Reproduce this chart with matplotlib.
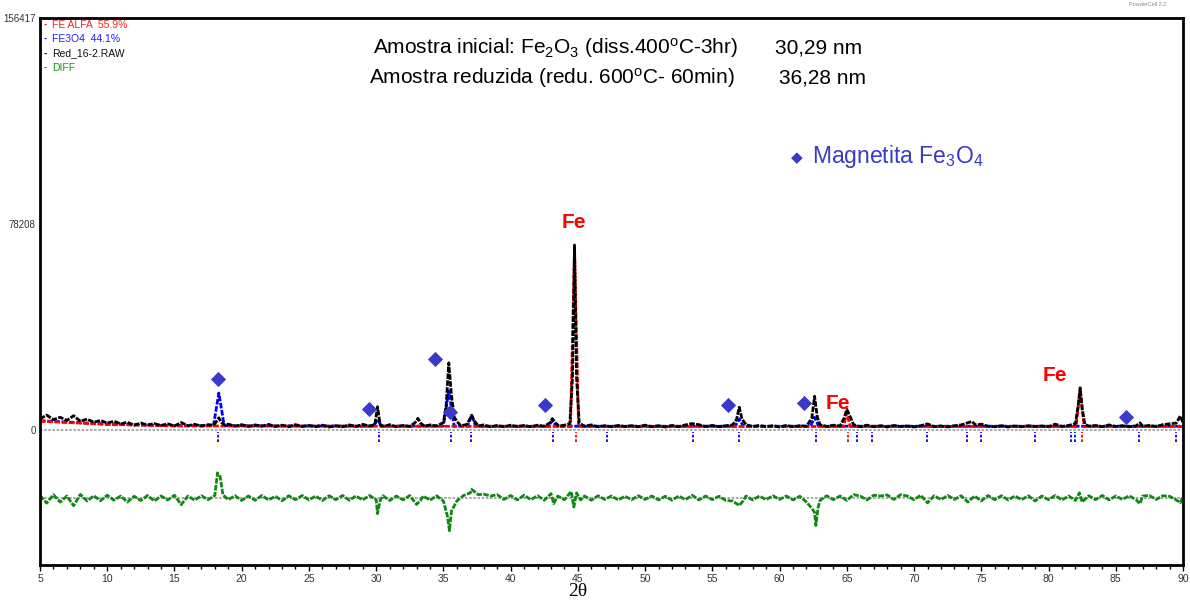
import matplotlib.pyplot as plt
import numpy as np
from matplotlib.ticker import MultipleLocator

plt.rcParams['font.family'] = ['Liberation Sans', 'DejaVu Sans']
plt.rcParams['mathtext.fontset'] = 'custom'
plt.rcParams['mathtext.rm'] = 'Liberation Sans'
plt.rcParams['mathtext.it'] = 'Liberation Sans'

obs_x = [5.0, 5.5, 6.0, 6.5, 7.0, 7.5, 8.0, 8.5, 9.0, 9.5, 10.0, 10.5, 11.0, 11.5, 12.0, 12.5,
         13.0, 13.5, 14.0, 14.5, 15.0, 15.5, 16.0, 16.5, 17.0, 17.5, 17.9, 18.1, 18.3, 18.5, 18.8,
         19.0, 19.5, 20.0, 20.5, 21.0, 21.5, 22.0, 22.5, 23.0, 23.5, 24.0, 24.5, 25.0, 25.5, 26.0,
         26.5, 27.0, 27.5, 28.0, 28.5, 29.0, 29.5, 29.9, 30.1, 30.3, 30.6, 31.0, 31.5, 32.0, 32.5,
         32.9, 33.1, 33.3, 33.6, 34.0, 34.5, 35.0, 35.2, 35.4, 35.6, 35.8, 36.0, 36.3, 36.7, 36.9,
         37.1, 37.3, 37.6, 38.0, 38.5, 39.0, 39.5, 40.0, 40.5, 41.0, 41.5, 42.0, 42.5, 42.9, 43.1,
         43.3, 43.6, 44.0, 44.4, 44.6, 44.75, 44.9, 45.1, 45.5, 46.0, 46.5, 47.0, 47.5, 48.0, 48.5,
         49.0, 49.5, 50.0, 50.5, 51.0, 51.5, 52.0, 52.5, 53.0, 53.5, 54.0, 54.5, 55.0, 55.5, 56.0,
         56.5, 56.8, 57.0, 57.2, 57.5, 58.0, 58.5, 59.0, 59.5, 60.0, 60.5, 61.0, 61.5, 62.0, 62.4,
         62.6, 62.8, 63.0, 63.5, 64.0, 64.5, 64.8, 65.0, 65.2, 65.5, 66.0, 66.5, 67.0, 67.5, 68.0,
         68.5, 69.0, 69.5, 70.0, 70.5, 71.0, 71.5, 72.0, 72.5, 73.0, 73.5, 74.0, 74.3, 74.6, 75.0,
         75.5, 76.0, 76.5, 77.0, 77.5, 78.0, 78.5, 79.0, 79.5, 80.0, 80.5, 81.0, 81.5, 82.0, 82.2,
         82.35, 82.5, 82.7, 83.0, 83.5, 84.0, 84.5, 85.0, 85.5, 86.0, 86.5, 86.8, 87.0, 87.5, 88.0,
         88.5, 89.0, 89.5, 89.8, 90.0]
obs_y = [4200, 5600, 3900, 4800, 3600, 5400, 3300, 4100, 2900, 3600, 2600, 3300, 2300, 2900, 1800, 2600,
         1900, 2400, 1700, 2300, 1500, 2800, 1600, 2100, 1500, 2000, 1800, 3000, 4600, 2800, 1700,
         2200, 1400, 2000, 1300, 1900, 1400, 2100, 1300, 1800, 1200, 2000, 1300, 1700, 1200, 1800,
         1100, 1600, 1200, 1900, 1300, 2100, 1500, 2000, 8800, 1900, 1300, 2000, 1200, 1700, 1300,
         2800, 4400, 2600, 1400, 1900, 1500, 2800, 9000, 25500, 13000, 5000, 3200, 1600, 2000, 3500,
         5600, 3400, 1500, 1900, 1200, 1700, 1200, 1800, 1300, 1700, 1200, 1800, 1400, 2600, 4300,
         2800, 1500, 1800, 2400, 20000, 70200, 20000, 2600, 1400, 1900, 1200, 1600, 1200, 1700, 1300,
         1600, 1200, 1800, 1200, 1600, 1100, 1700, 1200, 1900, 2400, 2000, 1300, 1700, 1200, 1600,
         1900, 4000, 8600, 4200, 2000, 1300, 1700, 1200, 1600, 1100, 1700, 1200, 1600, 1400, 4500,
         12800, 5000, 2000, 1300, 1800, 1500, 4500, 7800, 5600, 2000, 1200, 1800, 1200, 1600, 1100,
         1700, 1300, 1500, 1100, 1600, 2300, 1200, 1500, 1100, 1600, 1900, 2700, 3200, 1800, 2200,
         1400, 1200, 1600, 1100, 1500, 1200, 1600, 1300, 1500, 1200, 2200, 1300, 1700, 2400, 9000,
         16000, 8000, 2200, 1400, 1700, 1200, 1900, 1300, 1600, 1200, 1500, 2700, 1400, 1700, 1300,
         2000, 2300, 2600, 5300, 2600]

# calculated profile FE3O4 (blue)
fe3o4_x = [5, 10, 15, 17.9, 18.3, 18.7, 29.8, 30.1, 30.4, 35.0, 35.4, 35.8, 36.8, 37.1, 37.4,
           42.8, 43.1, 43.4, 56.7, 57.0, 57.3, 62.3, 62.6, 62.9, 90]
fe3o4_y = [3500, 2200, 1600, 1600, 14000, 1600, 1400, 4000, 1400, 1500, 14800, 1500, 1400, 5600, 1400,
           1400, 3500, 1400, 1400, 4200, 1400, 1400, 4800, 1400, 1400]

# calculated profile FE ALFA (red)
fe_x = [5, 10, 15, 44.45, 44.75, 45.05, 64.75, 65.0, 65.25, 82.05, 82.35, 82.65, 90]
fe_y = [3300, 2100, 1500, 1300, 69000, 1300, 1300, 6500, 1300, 1300, 15500, 1300, 1300]

# difference curve (obs - calc)
diff_x = [5.0, 5.5, 6.0, 6.5, 7.0, 7.5, 8.0, 8.5, 9.0, 9.5, 10.0, 10.5, 11.0, 11.5, 12.0, 12.5,
          13.0, 13.5, 14.0, 14.5, 15.0, 15.5, 16.0, 16.5, 17.0, 17.5, 18.0, 18.2, 18.4, 18.6, 19.0,
          19.5, 20.0, 20.5, 21.0, 21.5, 22.0, 22.5, 23.0, 23.5, 24.0, 24.5, 25.0, 25.5, 26.0, 26.5,
          27.0, 27.5, 28.0, 28.5, 29.0, 29.5, 30.0, 30.1, 30.3, 30.5, 31.0, 31.5, 32.0, 32.5, 33.0,
          33.3, 33.5, 34.0, 34.5, 35.0, 35.3, 35.45, 35.6, 36.0, 36.5, 37.0, 37.1, 37.3, 37.6, 38.0,
          38.5, 39.0, 39.5, 40.0, 40.5, 41.0, 41.5, 42.0, 42.5, 43.0, 43.2, 43.5, 44.0, 44.5, 44.7,
          44.9, 45.2, 45.5, 46.0, 46.5, 47.0, 47.5, 48.0, 48.5, 49.0, 49.5, 50.0, 50.5, 51.0, 51.5,
          52.0, 52.5, 53.0, 53.5, 54.0, 54.5, 55.0, 55.5, 56.0, 56.5, 57.0, 57.3, 57.5, 58.0, 58.5,
          59.0, 59.5, 60.0, 60.5, 61.0, 61.5, 62.0, 62.4, 62.6, 62.7, 62.85, 63.0, 63.5, 64.0, 64.5,
          65.0, 65.5, 66.0, 66.5, 67.0, 67.5, 68.0, 68.5, 69.0, 69.5, 70.0, 70.5, 71.0, 71.5, 72.0,
          72.5, 73.0, 73.5, 74.0, 74.5, 75.0, 75.5, 76.0, 76.5, 77.0, 77.5, 78.0, 78.5, 79.0, 79.5,
          80.0, 80.5, 81.0, 81.5, 82.0, 82.3, 82.5, 83.0, 83.5, 84.0, 84.5, 85.0, 85.5, 86.0, 86.5,
          86.8, 87.0, 87.5, 88.0, 88.5, 89.0, 89.5, 89.8, 90.0]
diff_y = [900, -2000, 1200, -1600, 700, -3000, 1300, -1200, 800, -1100, 1000, -900, 700, -1600, 600, -1000,
          900, -1200, 700, -800, 1000, -2600, 700, -900, 800, -700, 900, 9500, 8000, 1200, -700,
          800, -1000, 700, -900, 900, -800, 600, -1100, 800, -700, 900, -800, 700, -1000, 800,
          -700, 900, -900, 700, -800, 900, -700, -6000, -900, 800, -1000, 700, -800, 900, -2500,
          -1000, 700, -900, 800, -1200, -7000, -12500, -5000, -1200, 900, 1900, 3200, 2400, 1200, 1400,
          700, 1200, -600, 900, -800, 1000, -700, 800, -900, 1600, -2200, 700, -700, 2400, -3500,
          1900, -800, 700, -900, 800, -600, 700, -800, 600, -700, 800, -600, 700, -800, 600,
          -900, 700, -700, 1000, -800, 700, -700, 600, -1000, -1200, -2900, -1100, 700, -800, 700,
          -700, 800, -600, 700, -800, 600, -1600, -4000, -5500, -10500, -4000, -1000, 800, -700, 700,
          -1000, 1200, 700, -800, 1000, 700, 1100, -600, 1200, 700, -700, 1000, -1900, 800, -700,
          900, -600, 800, -1600, 700, -1200, 900, -700, 800, -800, 700, -700, 800, -1200, 700,
          -700, 900, -800, 700, -1000, 1900, -1600, 800, -700, 900, -800, 700, -600, 800, -700,
          -2200, 700, 900, -600, 800, 600, -800, -1900, 700]

# reflection positions
fe3o4_refl = [18.23, 30.2, 35.56, 37.05, 43.14, 47.16, 53.55, 56.97, 62.7, 65.74, 66.86, 70.95,
              73.92, 74.96, 78.98, 81.66, 81.95, 86.7, 89.5]
fe_refl = [44.85, 65.07, 82.47]

# magnetite markers (2theta, height)
mag_x = [18.2, 29.5, 34.37, 35.48, 42.55, 56.15, 61.8, 85.74]
mag_y = [19360, 8000, 26950, 6800, 9500, 9500, 10250, 4930]

# "Fe" labels
fe_lab_x = [44.7, 64.3, 80.47]
fe_lab_y = [78900, 9900, 20500]

ymax = 156417
diff_offset = -25800
ymin = -51300

W, H = 1190, 601
fig = plt.figure(figsize=(W / 100, H / 100), dpi=100)
ax = fig.add_axes([40 / W, 1 - 565 / H, 1143 / W, 547 / H])

ax.axhline(0, color='#999999', lw=1.2, ls=(0, (1.5, 1)))
ax.axhline(diff_offset, color='#999999', lw=1.2, ls=(0, (1.5, 1)))
ax.plot(fe3o4_x, fe3o4_y, color='#0000ff', lw=2, ls=(0, (2, 0.6)))
ax.plot(fe_x, fe_y, color='#ff0000', lw=2, ls=(0, (2, 0.6)))
ax.plot(obs_x, obs_y, color='black', lw=2, ls=(0, (2, 0.5)))
ax.plot(diff_x, np.array(diff_y) + diff_offset, color='#118811', lw=2, ls=(0, (2, 0.5)))

ax.vlines(fe3o4_refl, -4500, -800, color='#0000ff', lw=1.3, ls=(0, (1.5, 1)))
ax.vlines(fe_refl, -4500, -800, color='#ff0000', lw=1.3, ls=(0, (1.5, 1)))

ax.scatter(mag_x, mag_y, marker='D', s=60, color='#3a3ac8', zorder=5, linewidths=0)
for x, y in zip(fe_lab_x, fe_lab_y):
    ax.text(x, y, 'Fe', color='#ff0000', fontsize=15, fontweight='bold', ha='center', va='center')

ax.set_xlim(5, 90)
ax.set_ylim(ymin, ymax)
ax.xaxis.set_major_locator(MultipleLocator(5))
ax.xaxis.set_minor_locator(MultipleLocator(1))
ax.set_yticks([0, 78208, 156417])
ax.set_yticklabels(['0', '78208', '156417'])
ax.tick_params(axis='x', which='major', direction='out', length=4, width=1, labelsize=7.5,
               labelcolor='#333333', pad=2.5)
ax.tick_params(axis='x', which='minor', direction='out', length=3, width=1)
ax.tick_params(axis='y', length=0, labelsize=7, labelcolor='#333333', pad=3)
for s in ax.spines.values():
    s.set_linewidth(2)

# legend in the corner
leg = [('FE ALFA  55.9%', '#ff2020'), ('FE3O4  44.1%', '#2020ff'),
       ('Red_16-2.RAW', '#111111'), ('DIFF', '#119911')]
for i, (t, c) in enumerate(leg):
    yy = 1 - (25 + 14.3 * i) / H
    fig.text(44 / W, yy, '-', color=c, fontsize=7, va='center', fontweight='bold')
    fig.text(52 / W, yy, t, color=c, fontsize=7.5, va='center')

fig.text(373 / W, 1 - 48 / H, r'Amostra inicial: Fe$_2$O$_3$ (diss.400$^{\rm o}$C-3hr)',
         fontsize=15, va='center')
fig.text(775 / W, 1 - 48 / H, '30,29 nm', fontsize=15, va='center')
fig.text(369 / W, 1 - 78 / H, r'Amostra reduzida (redu. 600$^{\rm o}$C- 60min)',
         fontsize=15, va='center')
fig.text(779 / W, 1 - 78 / H, '36,28 nm', fontsize=15, va='center')

fig.text(797 / W, 1 - 158 / H, '\u25c6', color='#3a3ac8', fontsize=11, ha='center', va='center',
         family='DejaVu Sans')
fig.text(812 / W, 1 - 157 / H, r'Magnetita Fe$_3$O$_4$', color='#3a3ac8', fontsize=16.5,
         va='center')

fig.text(1148 / W, 1 - 5 / H, 'PowderCell 2.2', color='#888888', fontsize=4, ha='center',
         va='center')
fig.text(578 / W, 1 - 600 / H, '2\u03b8', fontsize=14, ha='center', va='bottom',
         family=['Liberation Serif', 'DejaVu Serif'])

fig.savefig('out.png', dpi=100)
